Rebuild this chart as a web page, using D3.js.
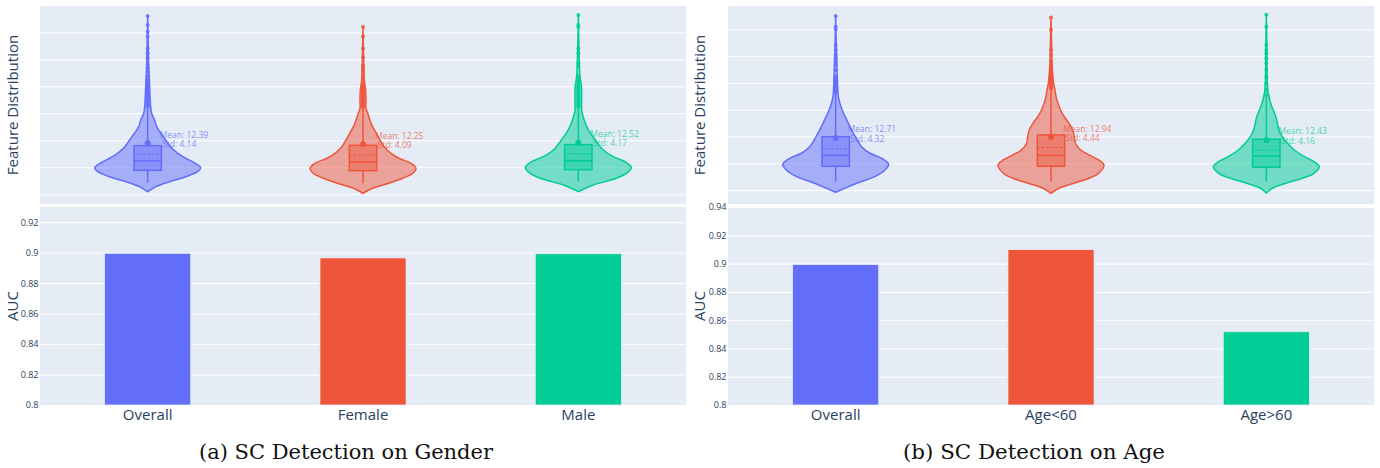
<!DOCTYPE html>
<html><head><meta charset="utf-8">
<script src="https://cdn.jsdelivr.net/npm/d3@7"></script>
<style>body{margin:0;background:#fff;} svg{display:block;font-family:"Open Sans",sans-serif;}</style>
</head><body><svg id="c" width="1380" height="468"></svg>
<script>
// ---------------- data ----------------
const catsA = ["Overall", "Female", "Male"];
const catsB = ["Overall", "Age<60", "Age>60"];
const aucA = [0.8996, 0.8966, 0.8993];
const aucB = [0.8993, 0.9099, 0.8518];
const meanA = [12.39, 12.25, 12.52];
const stdA = [4.14, 4.09, 4.17];
const meanB = [12.71, 12.94, 12.43];
const stdB = [4.32, 4.44, 4.16];
const q1A = [9.44, 9.37, 9.56], medA = [11.17, 10.98, 11.22], q3A = [14.0, 14.07, 14.19];
const q1B = [9.44, 9.44, 9.25], medB = [11.49, 11.49, 11.36], q3B = [14.96, 15.28, 14.48];
const loWhiskA = [7.15, 7.04, 7.33], hiWhiskA = [20.8, 21.0, 21.1];
const loWhiskB = [6.57, 6.57, 6.57], hiWhiskB = [23.1, 23.9, 22.3];
const markA = [14.44, 14.26, 14.56], markB = [14.72, 14.9, 14.35];
const aucTicksA = [0.8, 0.82, 0.84, 0.86, 0.88, 0.9, 0.92];
const aucTicksB = [0.8, 0.82, 0.84, 0.86, 0.88, 0.9, 0.92, 0.94];
const featTicks = [5, 10, 15, 20, 25, 30, 35];

// violin density profiles: [value, relative half-width]
const violinA = [
  [[5.48,0],[6.41,0.16],[7.33,0.41],[8.26,0.72],[9.19,0.94],[9.9,1.0],[10.74,0.9],[11.67,0.72],[12.59,0.57],[13.81,0.43],[15.06,0.34],[16.3,0.25],[17.52,0.17],[18.76,0.13],[20.0,0.075],[21.2,0.057],[23.7,0.043],[26.2,0.032],[28.6,0.019],[33,0.01],[38,0]],
  [[5.19,0],[6.11,0.18],[7.04,0.49],[7.96,0.75],[8.89,0.94],[9.81,1.0],[10.74,0.91],[11.67,0.68],[12.59,0.53],[13.81,0.40],[15.06,0.32],[16.3,0.25],[17.52,0.18],[18.76,0.13],[20.0,0.09],[20.93,0.057],[22.46,0.057],[24.3,0.05],[26.2,0.025],[30,0.012],[36,0]],
  [[5.48,0],[6.72,0.28],[7.96,0.72],[9.19,0.95],[10.0,1.0],[11.04,0.88],[11.96,0.66],[13.2,0.47],[15.06,0.32],[16.91,0.19],[18.76,0.11],[20.6,0.063],[22.46,0.063],[24.9,0.06],[26.8,0.032],[32,0.012],[38.2,0]]
];
const violinB = [
  [[4.59,0],[6.27,0.4],[7.5,0.74],[8.75,0.93],[9.81,1.0],[10.93,0.87],[11.87,0.65],[13.1,0.49],[14.96,0.37],[16.83,0.27],[18.7,0.18],[20.56,0.10],[22.43,0.051],[24.3,0.038],[28.0,0.025],[32,0.012],[37.5,0]],
  [[4.40,0],[5.34,0.15],[6.27,0.43],[7.2,0.72],[8.13,0.9],[9.68,1.0],[10.62,0.9],[11.55,0.72],[12.48,0.56],[13.73,0.46],[14.96,0.44],[16.21,0.41],[17.46,0.34],[18.7,0.25],[19.94,0.18],[21.19,0.13],[22.43,0.095],[23.68,0.076],[24.93,0.05],[26.8,0.032],[28.7,0.019],[33,0.01],[37.2,0]],
  [[4.45,0],[5.34,0.11],[6.27,0.37],[7.2,0.68],[8.13,0.9],[9.37,1.0],[10.3,0.9],[11.23,0.72],[12.48,0.53],[13.73,0.40],[14.96,0.30],[16.21,0.24],[17.46,0.21],[18.7,0.18],[19.94,0.13],[21.19,0.082],[22.43,0.051],[23.36,0.032],[26,0.015],[32,0.01],[37.7,0]]
];
// outlier points
const outA = [
  [21.2,21.5,21.8,22.1,22.4,22.7,23.0,23.3,23.6,23.9,24.2,24.5,24.8,25.1,25.4,25.7,26.2,26.8,27.7,28.3,29.0,30.2,31.1,32.0,34.2,35.1,36.35,38.0],
  [21.2,21.5,21.8,22.1,22.4,22.7,23.0,23.3,23.6,23.9,24.2,24.5,24.8,25.1,25.5,26.2,26.8,27.7,28.3,28.9,30.4,32.0,34.2,36.0],
  [21.2,21.5,21.8,22.1,22.4,22.7,23.0,23.3,23.6,23.9,24.2,24.5,24.8,25.1,25.5,25.9,26.3,26.8,28.6,29.26,31.1,32.0,36.0,36.35,38.2]
];
const outB = [
  [23.2,23.5,23.8,24.1,24.4,24.7,25.0,25.3,25.6,25.9,26.2,27.4,28.34,28.96,29.6,30.2,31.14,32.07,35.0,35.5,37.5],
  [24.0,24.3,24.6,24.9,25.2,25.5,25.8,26.1,26.4,26.7,27.0,27.3,27.6,28.0,28.3,28.96,30.2,31.14,34.9,37.2],
  [22.7,23.7,24.9,26.2,27.4,28.7,29.6,30.5,31.14,32.07,35.5,37.7]
];

// ---------------- layout ----------------
const colors = ["#636efa", "#EF553B", "#00cc96"];
const panels = [
  {cats: catsA, auc: aucA, mean: meanA, std: stdA, q1: q1A, med: medA, q3: q3A, lo: loWhiskA, hi: hiWhiskA,
   mark: markA, violin: violinA, out: outA, aucTicks: aucTicksA, aucMax: 0.93, featDomain: [3.2, 39.87],
   x0: 40, x1: 686, titleX: 13, caption: "(a) SC Detection on Gender", capX: 346, capW: 294},
  {cats: catsB, auc: aucB, mean: meanB, std: stdB, q1: q1B, med: medB, q3: q3B, lo: loWhiskB, hi: hiWhiskB,
   mark: markB, violin: violinB, out: outB, aucTicks: aucTicksB, aucMax: 0.94, featDomain: [2.4, 39.35],
   x0: 728, x1: 1374, titleX: 700, caption: "(b) SC Detection on Age", capX: 1034, capW: 262}
];
const topY0 = 6, topY1 = 204, botY0 = 207, botY1 = 405;
const bg = "#E5ECF6", txt = "#2a3f5f";
const svg = d3.select("#c");

panels.forEach(p => {
  const W = p.x1 - p.x0;
  const g = svg.append("g");
  const x = d3.scaleBand().domain(p.cats).range([p.x0, p.x1]).paddingInner(0.6).paddingOuter(0.3);
  const step = x.step();
  const cx = c => x(c) + x.bandwidth() / 2;

  // ---- top: violins ----
  g.append("rect").attr("x", p.x0).attr("y", topY0).attr("width", W).attr("height", topY1 - topY0).attr("fill", bg);
  const yF = d3.scaleLinear().domain(p.featDomain).range([topY1, topY0]);
  g.append("g").attr("transform", `translate(${p.x0},0)`)
    .call(d3.axisLeft(yF).tickValues(featTicks).tickSize(-W).tickFormat(""))
    .call(a => a.select(".domain").remove())
    .call(a => a.selectAll("line").attr("stroke", "#fff").attr("stroke-width", 1));

  const wS = d3.scaleLinear().domain([0, 1]).range([0, step * 0.246]);
  const boxHalf = step * 0.0636;
  p.cats.forEach((c, i) => {
    const col = colors[i], X = cx(c);
    const vg = g.append("g");
    const area = d3.area().y(d => yF(d[0])).x0(d => X - wS(d[1])).x1(d => X + wS(d[1]))
      .curve(d3.curveCatmullRom.alpha(0.5));
    vg.append("path").datum(p.violin[i]).attr("d", area)
      .attr("fill", col).attr("fill-opacity", 0.5).attr("stroke", col).attr("stroke-width", 1.5);
    // whiskers
    vg.append("line").attr("x1", X).attr("x2", X).attr("y1", yF(p.lo[i])).attr("y2", yF(p.q1[i]))
      .attr("stroke", col).attr("stroke-width", 1.5);
    vg.append("line").attr("x1", X).attr("x2", X).attr("y1", yF(p.q3[i])).attr("y2", yF(p.hi[i]))
      .attr("stroke", col).attr("stroke-width", 1.5);
    // box
    vg.append("rect").attr("x", X - boxHalf).attr("width", 2 * boxHalf)
      .attr("y", yF(p.q3[i])).attr("height", yF(p.q1[i]) - yF(p.q3[i]))
      .attr("fill", col).attr("fill-opacity", 0.45).attr("stroke", col).attr("stroke-width", 1.5);
    vg.append("line").attr("x1", X - boxHalf).attr("x2", X + boxHalf).attr("y1", yF(p.med[i])).attr("y2", yF(p.med[i]))
      .attr("stroke", col).attr("stroke-width", 1.5);
    vg.append("line").attr("x1", X - boxHalf).attr("x2", X + boxHalf).attr("y1", yF(p.mean[i])).attr("y2", yF(p.mean[i]))
      .attr("stroke", col).attr("stroke-width", 1).attr("stroke-dasharray", "2.5,2");
    // outliers
    vg.selectAll("circle.o").data(p.out[i]).join("circle").attr("class", "o")
      .attr("cx", X).attr("cy", d => yF(d)).attr("r", 2).attr("fill", col).attr("fill-opacity", 0.85);
    // mean marker + label
    const my = yF(p.mark[i]);
    vg.append("circle").attr("cx", X).attr("cy", my).attr("r", 3).attr("fill", col);
    const t = vg.append("text").attr("font-size", 8.5).attr("fill", col).attr("fill-opacity", 0.75);
    t.append("tspan").attr("x", X + 12).attr("y", my - 5.5).text("Mean: " + p.mean[i].toFixed(2));
    t.append("tspan").attr("x", X + 14.5).attr("y", my + 3.8).text("Std: " + p.std[i].toFixed(2));
  });

  // ---- bottom: bars ----
  g.append("rect").attr("x", p.x0).attr("y", botY0).attr("width", W).attr("height", botY1 - botY0).attr("fill", bg);
  const yA = d3.scaleLinear().domain([0.8, p.aucMax]).range([botY1, botY0]);
  g.append("g").attr("transform", `translate(${p.x0},0)`)
    .call(d3.axisLeft(yA).tickValues(p.aucTicks).tickSize(-W).tickFormat(""))
    .call(a => a.select(".domain").remove())
    .call(a => a.selectAll("line").attr("stroke", "#fff").attr("stroke-width", 1));
  g.selectAll("rect.bar").data(p.cats).join("rect").attr("class", "bar")
    .attr("x", c => x(c)).attr("width", x.bandwidth())
    .attr("y", (c, i) => yA(p.auc[i])).attr("height", (c, i) => botY1 - yA(p.auc[i]))
    .attr("fill", (c, i) => colors[i]).attr("stroke", bg).attr("stroke-width", 0.8);
  // y tick labels
  g.append("g").attr("transform", `translate(${p.x0 - 1.5},0)`)
    .call(d3.axisLeft(yA).tickValues(p.aucTicks).tickSize(0).tickPadding(0).tickFormat(v => String(+v.toFixed(2))))
    .call(a => a.select(".domain").remove())
    .call(a => a.selectAll("text").attr("font-size", 9).attr("fill", txt).attr("font-family", '"Open Sans",sans-serif'));
  // x labels
  g.append("g").attr("transform", `translate(0,${botY1})`)
    .call(d3.axisBottom(x).tickSize(0).tickPadding(4))
    .call(a => a.select(".domain").remove())
    .call(a => a.selectAll("text").attr("font-size", 15).attr("fill", txt).attr("font-family", '"Open Sans",sans-serif'));

  // axis titles
  g.append("text").attr("transform", `translate(${p.titleX},${(topY0 + topY1) / 2}) rotate(-90)`)
    .attr("text-anchor", "middle").attr("dy", "0.35em").attr("font-size", 15).attr("fill", txt)
    .text("Feature Distribution");
  g.append("text").attr("transform", `translate(${p.titleX},${(botY0 + botY1) / 2}) rotate(-90)`)
    .attr("text-anchor", "middle").attr("dy", "0.35em").attr("font-size", 15).attr("fill", txt)
    .text("AUC");

  // caption
  g.append("text").attr("x", p.capX).attr("y", 459).attr("text-anchor", "middle")
    .attr("font-family", '"DejaVu Serif",serif').attr("font-size", 20).attr("fill", "#111")
    .attr("textLength", p.capW).attr("lengthAdjust", "spacingAndGlyphs")
    .text(p.caption);
});
</script></body></html>
